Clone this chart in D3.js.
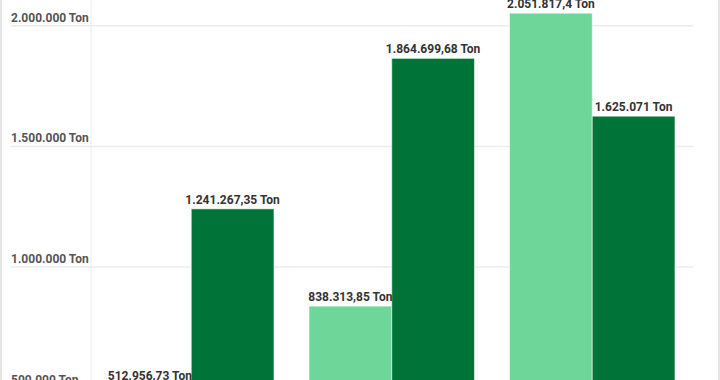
<!DOCTYPE html>
<html>
<head>
<meta charset="utf-8">
<script src="https://cdn.jsdelivr.net/npm/d3@7"></script>
<style>
  body { margin: 0; background: #fff; }
  svg { display: block; overflow: hidden; }
</style>
</head>
<body>
<svg width="720" height="380"></svg>
<script>
// values (bottom of chart is cut off in the reference)
const categories = ["Kategori 1", "Kategori 2", "Kategori 3"];
const series = ["Seri A", "Seri B"];
const seriesA = [512956.73, 838313.85, 2051817.4];
const seriesB = [1241267.35, 1864699.68, 1625071];
const labelsA = ["512.956,73 Ton", "838.313,85 Ton", "2.051.817,4 Ton"];
const labelsB = ["1.241.267,35 Ton", "1.864.699,68 Ton", "1.625.071 Ton"];
const yTicks = [500000, 1000000, 1500000, 2000000];
const yTickLabels = ["500.000 Ton", "1.000.000 Ton", "1.500.000 Ton", "2.000.000 Ton"];

const colors = { "Seri A": "#6fd69a", "Seri B": "#007338" };
const font = "Roboto, 'Open Sans', sans-serif";

let svg = d3.select('svg');

// frame lines at the left and right edges
svg.append('line').attr('x1', 1).attr('x2', 1).attr('y1', 0).attr('y2', 380)
    .attr('stroke', '#dedede').attr('stroke-width', 1.5);
svg.append('line').attr('x1', 719).attr('x2', 719).attr('y1', 0).attr('y2', 380)
    .attr('stroke', '#dedede').attr('stroke-width', 1.5);

let yScale = d3.scaleLinear()
    .domain([0, 2000000])
    .range([508.5, 25.7]);

let x0 = d3.scaleBand()
    .domain(categories)
    .range([91, 692.5]);

let x1 = d3.scaleBand()
    .domain(series)
    .range([0, x0.bandwidth()])
    .paddingOuter(0.212);

// grid
let grid = svg.append('g');
grid.selectAll('line')
    .data(yTicks)
    .enter()
    .append('line')
    .attr('x1', 11)
    .attr('x2', 693)
    .attr('y1', d => yScale(d))
    .attr('y2', d => yScale(d))
    .attr('stroke', '#ececec')
    .attr('stroke-width', 1.5);

// y axis line
svg.append('line')
    .attr('x1', 91).attr('x2', 91)
    .attr('y1', 0).attr('y2', 380)
    .attr('stroke', '#ececec').attr('stroke-width', 1);

grid.selectAll('text')
    .data(yTicks)
    .enter()
    .append('text')
    .attr('x', 11)
    .attr('y', d => yScale(d) - 4)
    .attr('font-family', font)
    .attr('font-weight', 'bold')
    .attr('font-size', '12px')
    .attr('fill', '#555')
    .text((d, i) => yTickLabels[i]);

// bars
let rows = [];
categories.forEach((c, i) => {
    rows.push({ cat: c, ser: "Seri A", v: seriesA[i], label: labelsA[i] });
    rows.push({ cat: c, ser: "Seri B", v: seriesB[i], label: labelsB[i] });
});

let bars = svg.append('g');
bars.selectAll('rect')
    .data(rows)
    .enter()
    .append('rect')
    .attr('x', d => x0(d.cat) + x1(d.ser))
    .attr('y', d => yScale(d.v))
    .attr('width', x1.bandwidth())
    .attr('height', d => yScale(0) - yScale(d.v))
    .attr('fill', d => colors[d.ser])
    .attr('stroke', 'rgba(255,255,255,0.55)')
    .attr('stroke-width', 1);

bars.selectAll('text')
    .data(rows)
    .enter()
    .append('text')
    .attr('x', d => x0(d.cat) + x1(d.ser) + x1.bandwidth() / 2)
    .attr('y', d => yScale(d.v) - 5)
    .attr('text-anchor', 'middle')
    .attr('font-family', font)
    .attr('font-weight', 'bold')
    .attr('font-size', '12px')
    .attr('fill', '#333')
    .text(d => d.label);
</script>
</body>
</html>
